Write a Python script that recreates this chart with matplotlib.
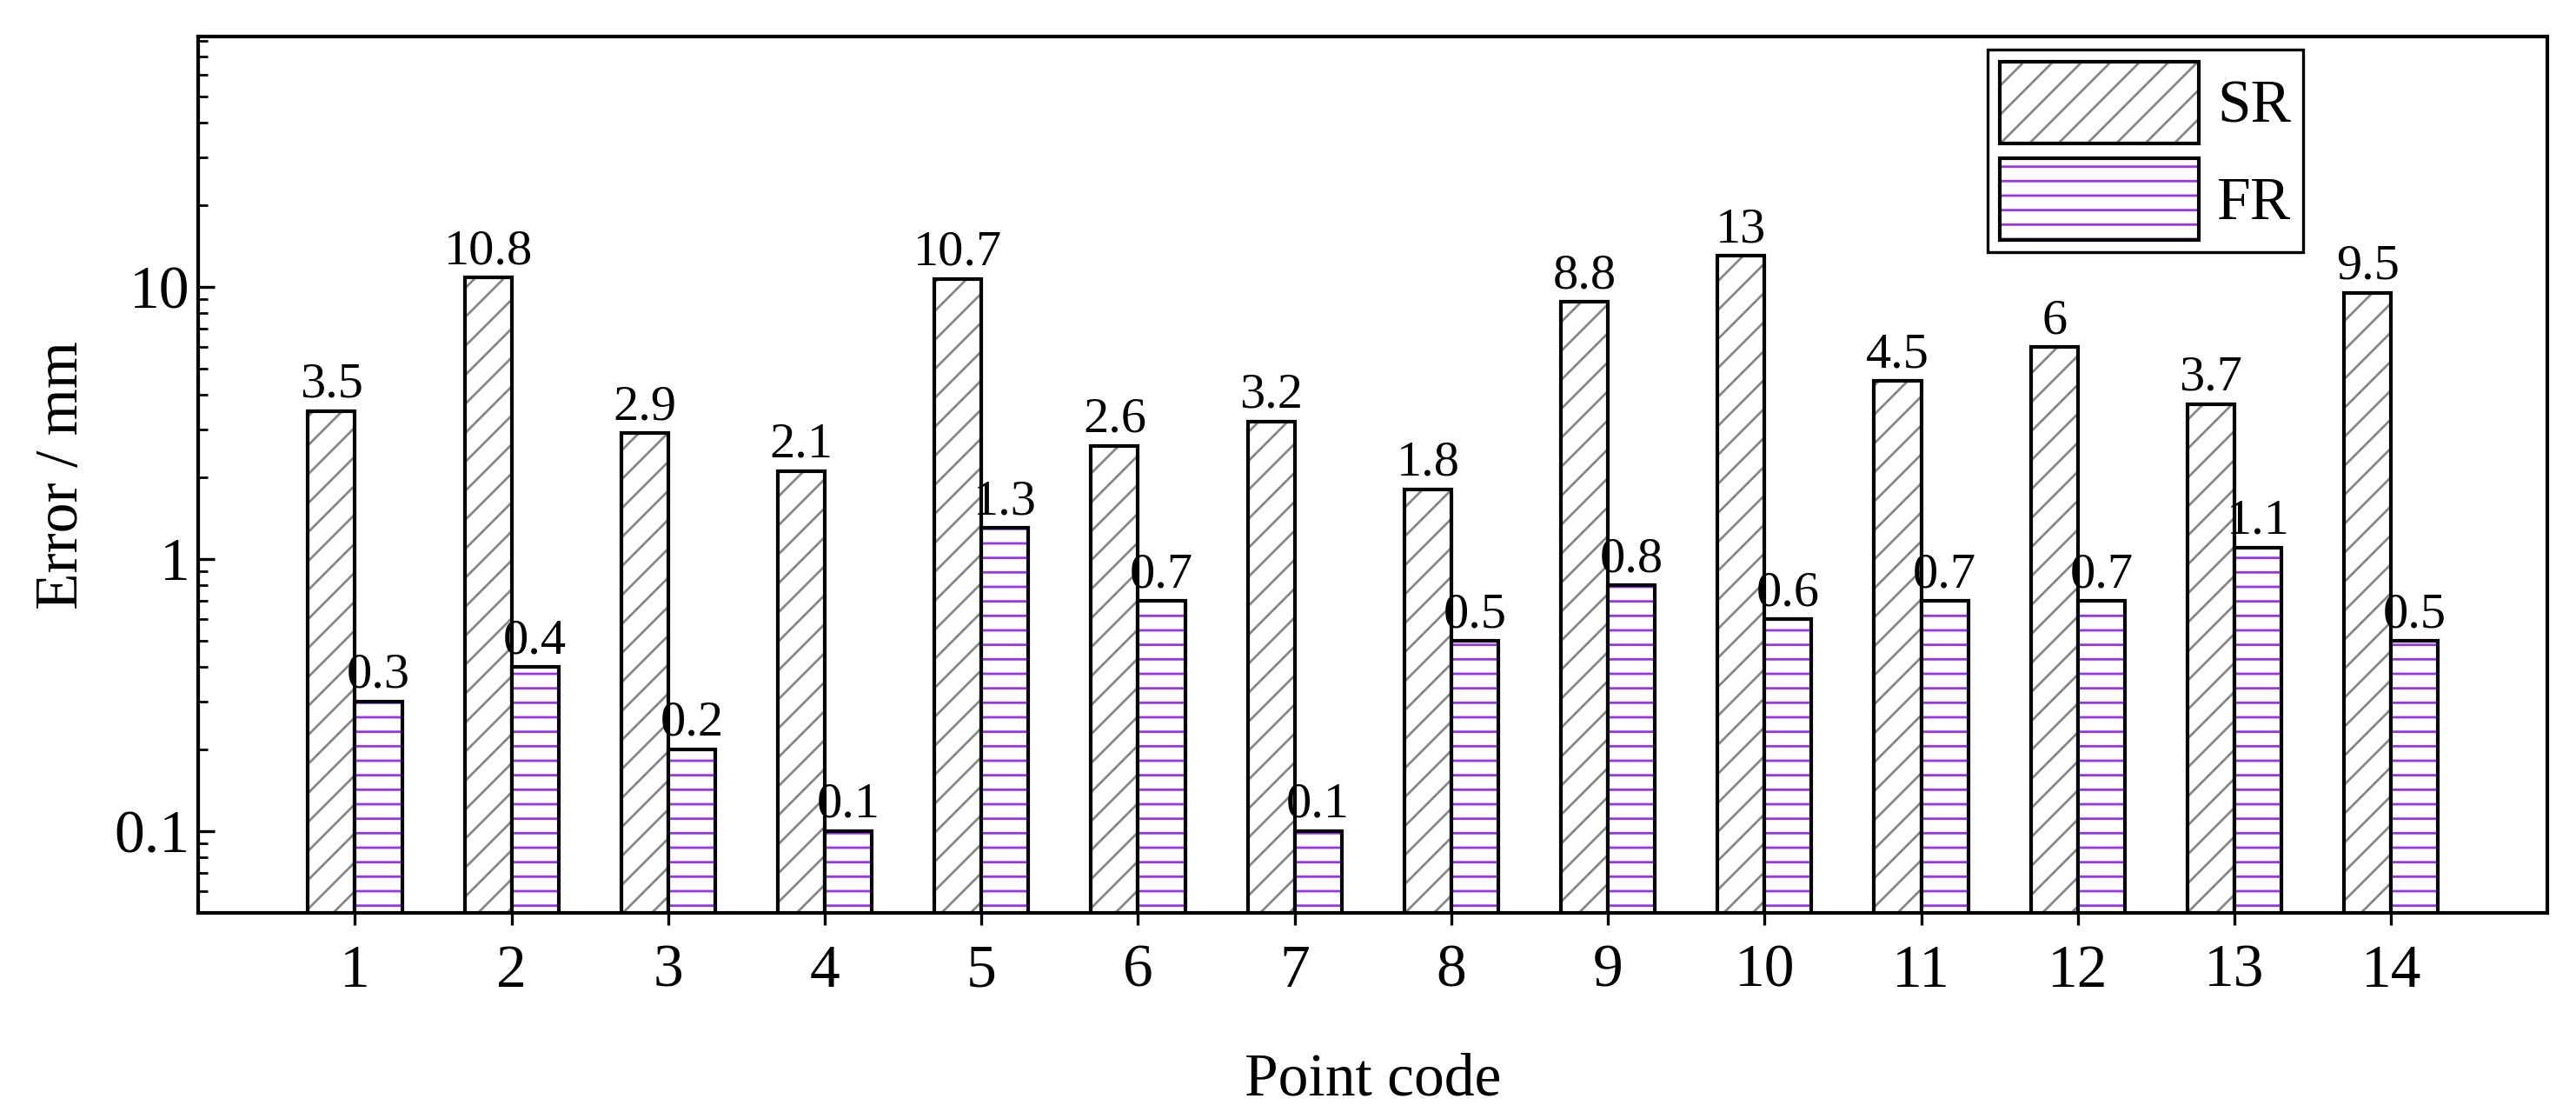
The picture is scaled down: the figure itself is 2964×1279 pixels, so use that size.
import matplotlib
matplotlib.use('Agg')
import matplotlib.pyplot as plt
import numpy as np

codes = list(range(1, 15))
sr = [3.5, 10.8, 2.9, 2.1, 10.7, 2.6, 3.2, 1.8, 8.8, 13, 4.5, 6, 3.7, 9.5]
fr = [0.3, 0.4, 0.2, 0.1, 1.3, 0.7, 0.1, 0.5, 0.8, 0.6, 0.7, 0.7, 1.1, 0.5]
sr_labels = ['3.5', '10.8', '2.9', '2.1', '10.7', '2.6', '3.2', '1.8', '8.8', '13', '4.5', '6', '3.7', '9.5']
fr_labels = ['0.3', '0.4', '0.2', '0.1', '1.3', '0.7', '0.1', '0.5', '0.8', '0.6', '0.7', '0.7', '1.1', '0.5']

plt.rcParams['font.family'] = ['Liberation Serif', 'DejaVu Serif']
plt.rcParams['hatch.linewidth'] = 1.0

fig = plt.figure(figsize=(14.82, 6.395), dpi=200)
ax = fig.add_axes([0.077, 0.179, 0.912, 0.788])

x = np.array(codes)
w = 0.3
b1 = ax.bar(x - w / 2, sr, w, color='white', edgecolor='black', linewidth=1.5,
            hatch='//', label='SR')
for p in b1:
    p._hatch_color = matplotlib.colors.to_rgba('#888888')
b2 = ax.bar(x + w / 2, fr, w, color='white', edgecolor='black', linewidth=1.5,
            hatch='--', label='FR')
for p in b2:
    p._hatch_color = matplotlib.colors.to_rgba('#9933ee')

for xi, v, t in zip(x - w / 2, sr, sr_labels):
    ax.text(xi, v * 1.03, t, ha='center', va='bottom', fontsize=21)
for xi, v, t in zip(x + w / 2, fr, fr_labels):
    ax.text(xi, v * 1.03, t, ha='center', va='bottom', fontsize=21)

ax.set_yscale('log')
ax.set_ylim(0.05, 83)
ax.set_xlim(0, 15)
ax.set_xticks(codes)
ax.set_yticks([0.1, 1, 10])
ax.set_yticklabels(['0.1', '1', '10'])
ax.tick_params(axis='both', labelsize=25)
ax.tick_params(axis='y', which='both', direction='in')
ax.tick_params(axis='y', which='major', length=7, width=1.2)
ax.tick_params(axis='y', which='minor', length=4, width=1)
ax.tick_params(axis='x', length=5, width=1.2, pad=8)
for s in ax.spines.values():
    s.set_linewidth(1.5)

ax.set_xlabel('Point code', fontsize=25, labelpad=22)
ax.set_ylabel('Error / mm', fontsize=25, labelpad=10)

leg = ax.legend(loc='upper right', bbox_to_anchor=(0.896, 0.985), fontsize=25,
                fancybox=False, framealpha=1, edgecolor='black',
                handlelength=3.3, handleheight=1.7, borderpad=0.2, labelspacing=0.25,
                handletextpad=0.3, borderaxespad=0)
leg.get_frame().set_linewidth(1.2)

fig.savefig('out.png', dpi=200)
